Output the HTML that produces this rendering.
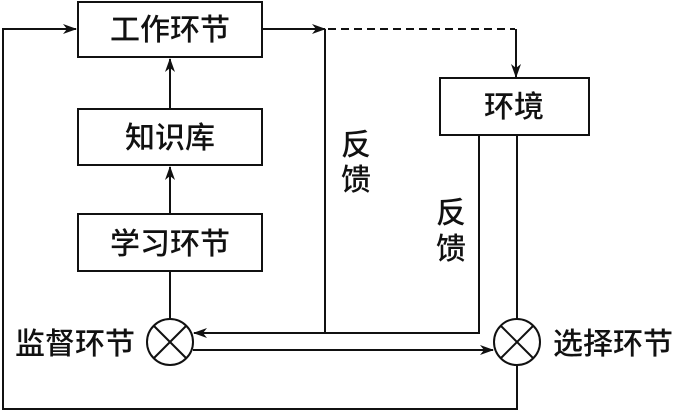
<!DOCTYPE html>
<html><head><meta charset="utf-8"><style>
body{margin:0;background:#fff;width:680px;height:414px;overflow:hidden}
svg text{font-family:"Liberation Sans","Noto Sans CJK SC",sans-serif;font-size:30px;font-weight:500;fill:#111}
</style></head><body>
<svg width="680" height="414" viewBox="0 0 680 414" xmlns="http://www.w3.org/2000/svg">
<defs><marker id="a" markerWidth="14" markerHeight="10" refX="13" refY="5" orient="auto" markerUnits="userSpaceOnUse"><path d="M0,0 L14,5 L0,10 L4,5 Z" fill="#111"/></marker></defs>
<g fill="none" stroke="#111" stroke-width="2">
<rect x="78" y="2" width="184" height="55"/>
<rect x="78" y="109" width="184" height="56"/>
<rect x="78" y="214" width="184" height="57"/>
<rect x="440" y="78" width="149" height="57"/>
<circle cx="170" cy="342" r="23"/>
<line x1="154" y1="326" x2="186" y2="358"/><line x1="186" y1="326" x2="154" y2="358"/>
<circle cx="517" cy="342" r="23"/>
<line x1="501" y1="326" x2="533" y2="358"/><line x1="533" y1="326" x2="501" y2="358"/>
<polyline points="517,365 517,409 3,409 3,29 76,29" marker-end="url(#a)"/>
<line x1="170" y1="109" x2="170" y2="59" marker-end="url(#a)"/>
<line x1="170" y1="214" x2="170" y2="167" marker-end="url(#a)"/>
<line x1="170" y1="271" x2="170" y2="319"/>
<line x1="262" y1="29" x2="325" y2="29" marker-end="url(#a)"/>
<line x1="325" y1="29" x2="325" y2="333"/>
<polyline points="479,135 479,333 194,333" marker-end="url(#a)"/>
<line x1="517" y1="135" x2="517" y2="319"/>
<line x1="193" y1="350" x2="493" y2="350" marker-end="url(#a)"/>
<line x1="328" y1="29" x2="515" y2="29" stroke-dasharray="8,5"/>
<line x1="516" y1="29" x2="516" y2="77" marker-end="url(#a)"/>
</g>
<text x="170" y="40" text-anchor="middle">工作环节</text>
<text x="170" y="148" text-anchor="middle">知识库</text>
<text x="170" y="254" text-anchor="middle">学习环节</text>
<text x="514" y="117" text-anchor="middle">环境</text>
<text x="341" y="155">反</text><text x="341" y="190">馈</text>
<text x="436" y="223">反</text><text x="436" y="259">馈</text>
<text x="15" y="354">监督环节</text>
<text x="553" y="354">选择环节</text>
</svg>
</body></html>
